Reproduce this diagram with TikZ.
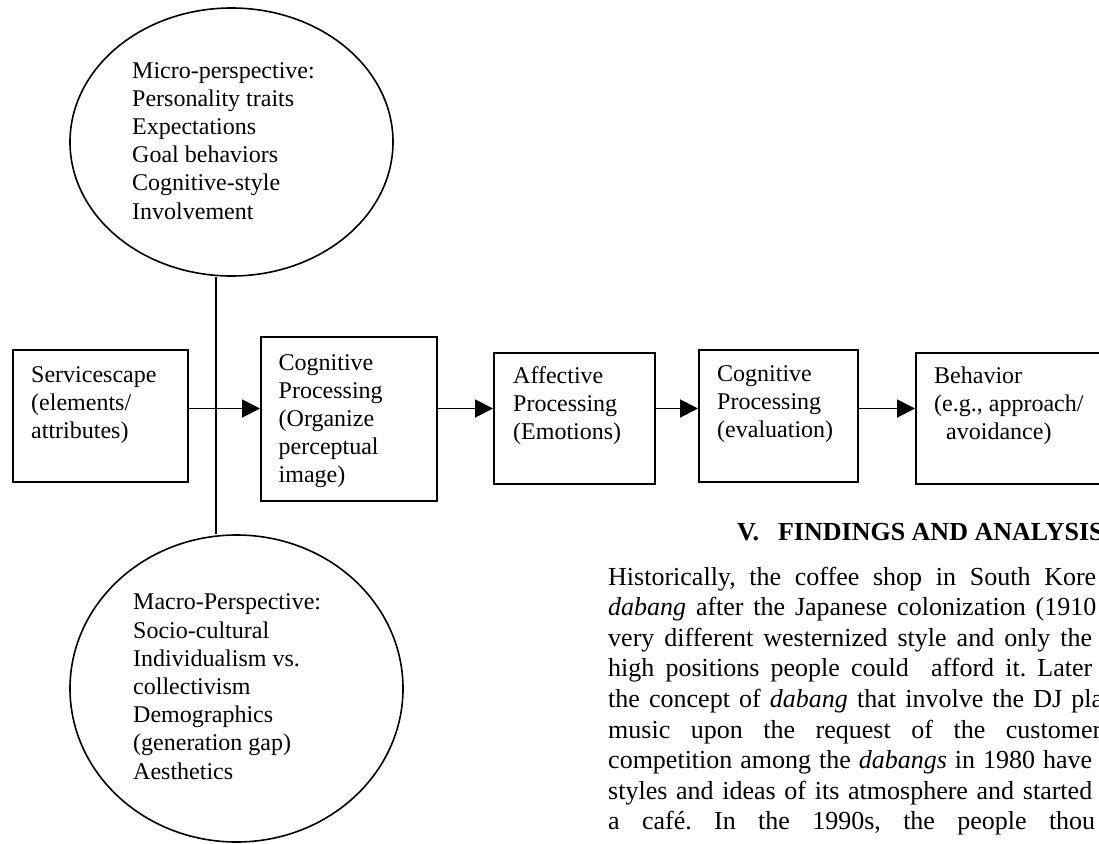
\documentclass[tikz,border=0pt]{standalone}
\usepackage{fontspec}
\setmainfont{Liberation Serif}
\usetikzlibrary{shapes.geometric,arrows.meta,calc}
\frenchspacing
\begin{document}
\begin{tikzpicture}[x=1pt,y=-1pt,
  box/.style={draw, line width=1.9pt, rectangle, inner sep=0pt, anchor=north west},
  oval/.style={draw, line width=1.6pt, ellipse, inner sep=0pt},
  lbl/.style={anchor=base west, align=left, inner sep=0pt, font=\fontsize{24pt}{28pt}\selectfont},
  olbl/.style={lbl, font=\fontsize{24pt}{28.2pt}\selectfont},
  arr/.style={line width=1.9pt, -{Triangle[length=18pt,width=18pt]}},
  conn/.style={line width=1.7pt},
  body/.style={anchor=base west, inner sep=0pt, font=\fontsize{26pt}{30pt}\selectfont},
  head/.style={anchor=base west, inner sep=0pt, font=\bfseries\fontsize{26pt}{30pt}\selectfont}]
\useasboundingbox (0,0) rectangle (1099,843);
\clip (0,0) rectangle (1099,843);

% ellipses
\node[oval, minimum width=323pt, minimum height=268pt] (micro) at (231.5,142) {};
\node[oval, minimum width=333pt, minimum height=307pt] (macro) at (236.5,688.5) {};
% labels anchored at the baseline of their last line
\node[olbl] (microtxt) at ($(micro.center)+(-99.5,77)$) {Micro-perspective:\\Personality traits\\Expectations\\Goal behaviors\\Cognitive-style\\Involvement};
\node[olbl] (macrotxt) at ($(macro.center)+(-103.5,90.5)$) {Macro-Perspective:\\Socio-cultural\\Individualism vs.\\collectivism\\Demographics\\(generation gap)\\Aesthetics};

% boxes
\node[box, minimum width=175pt, minimum height=132pt] (svc) at (12,349) {};
\node[box, minimum width=176pt, minimum height=164pt] (cog1) at (260,336) {};
\node[box, minimum width=161pt, minimum height=131pt] (aff) at (493,352) {};
\node[box, minimum width=159pt, minimum height=132pt] (cog2) at (698,349) {};
\node[box, minimum width=220pt, minimum height=131pt] (beh) at (915,352) {};

\node[lbl] (svctxt) at ($(svc.north west)+(19,89)$) {Servicescape\\(elements/\\attributes)};
\node[lbl] (cog1txt) at ($(cog1.north west)+(18.5,146)$) {Cognitive\\Processing\\(Organize\\perceptual\\image)};
\node[lbl] (afftxt) at ($(aff.north west)+(20,87)$) {Affective\\Processing\\(Emotions)};
\node[lbl] (cog2txt) at ($(cog2.north west)+(19,88)$) {Cognitive\\Processing\\(evaluation)};
\node[lbl] (behtxt) at ($(beh.north west)+(19,87)$) {Behavior\\(e.g., approach/\\\hspace*{12pt}avoidance)};

% connectors
\coordinate (ay) at (0,408.5);
\coordinate (vx) at (216,0);
\draw[conn] (micro.south -| vx) -- (macro.north -| vx);
\draw[arr] (svc.east |- ay) -- (cog1.west |- ay);
\draw[arr] (cog1.east |- ay) -- (aff.west |- ay);
\draw[arr] (aff.east |- ay) -- (cog2.west |- ay);
\draw[arr] (cog2.east |- ay) -- (beh.west |- ay);

% text column
\node[head] (heading) at (737,540) {V.\hspace{19pt}FINDINGS AND ANALYSIS};
\node[body] (l1) at (608,585) {\makebox[488pt][s]{Historically, the coffee shop in South Kore}};
\node[body] (l2) at (608,615.6) {\makebox[488pt][s]{\emph{dabang} after the Japanese colonization (1910}};
\node[body] (l3) at (608,646.2) {\makebox[484pt][s]{very different westernized style and only the}};
\node[body] (l4) at (608,676.8) {\makebox[484pt][s]{high positions people could\ \ afford it. Later}};
\node[body] (l5) at (608,707.4) {\makebox[495pt][s]{the concept of \emph{dabang} that involve the DJ pla}};
\node[body] (l6) at (608,738) {\makebox[493pt][s]{music upon the request of the customer}};
\node[body] (l7) at (608,768.6) {\makebox[484pt][s]{competition among the \emph{dabangs} in 1980 have}};
\node[body] (l8) at (608,799.2) {\makebox[484pt][s]{styles and ideas of its atmosphere and started}};
\node[body] (l9) at (608,829.8) {\makebox[487pt][s]{a caf\'e. In the 1990s, the people thou}};
\end{tikzpicture}
\end{document}
